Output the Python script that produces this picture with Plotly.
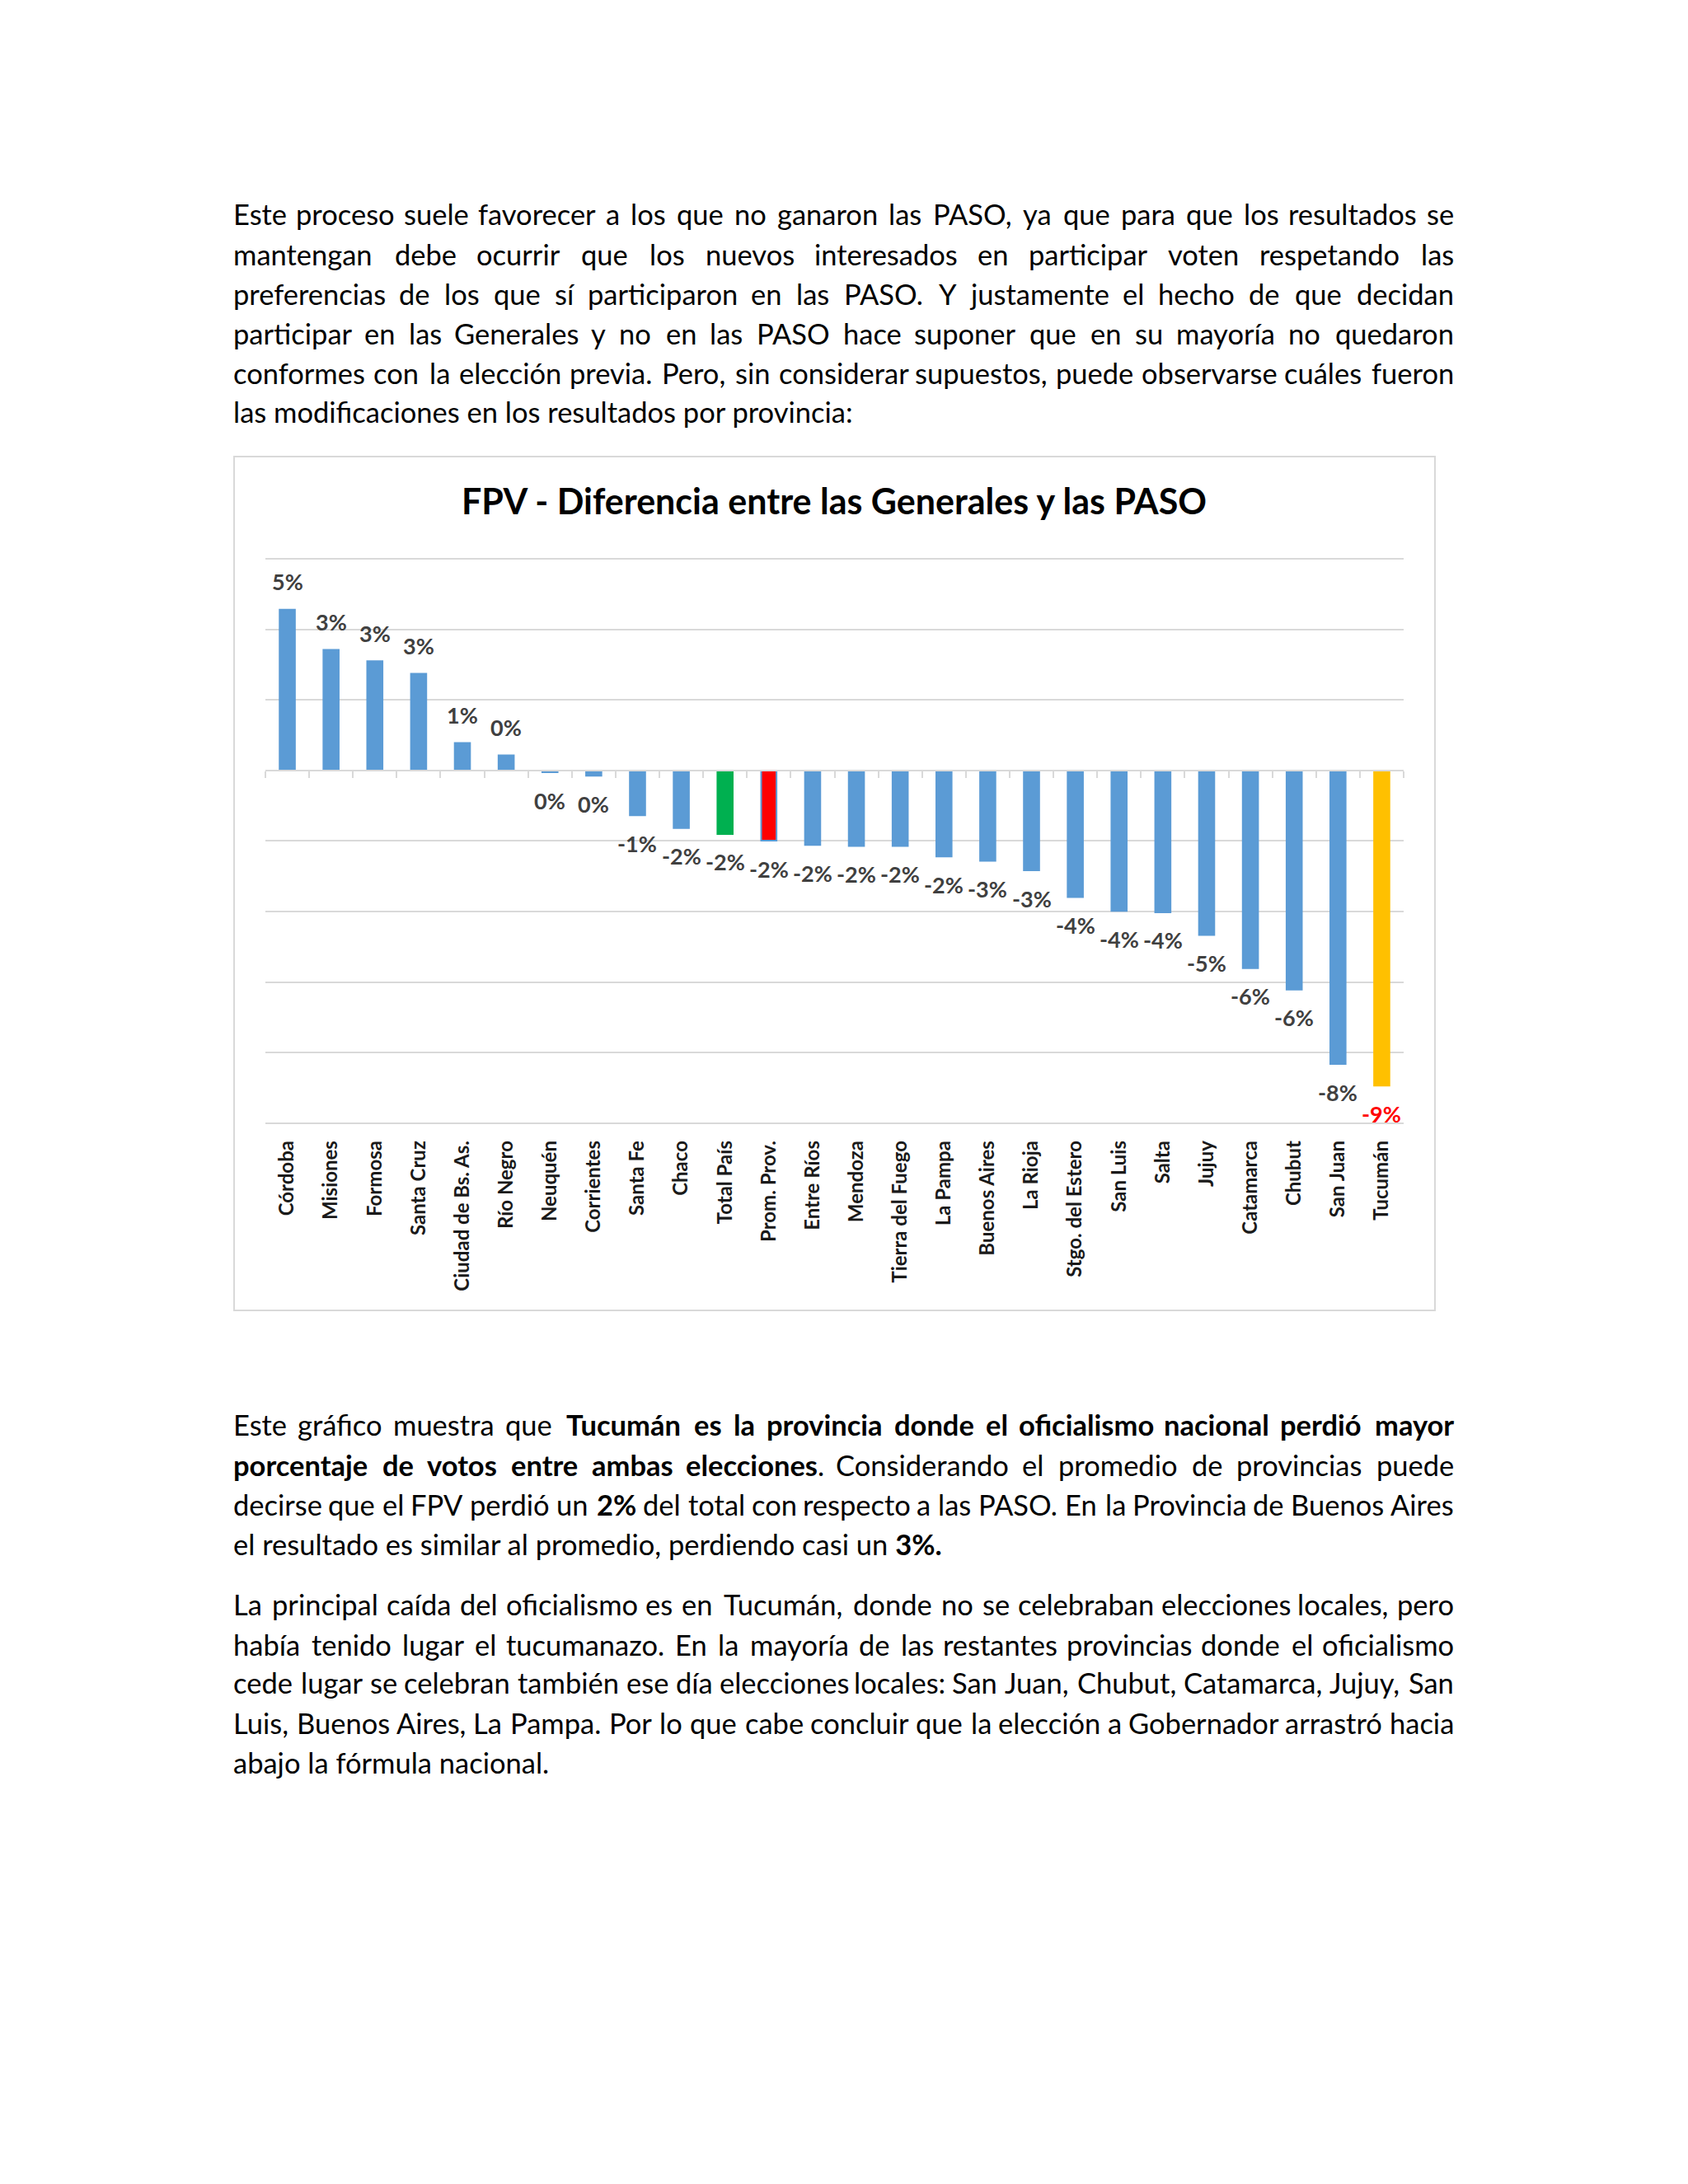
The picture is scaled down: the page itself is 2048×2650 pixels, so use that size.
import plotly.graph_objects as go

# ---------------- data ----------------
categories = ["Córdoba", "Misiones", "Formosa", "Santa Cruz", "Ciudad de Bs. As.", "Río Negro",
              "Neuquén", "Corrientes", "Santa Fe", "Chaco", "Total País", "Prom. Prov.",
              "Entre Ríos", "Mendoza", "Tierra del Fuego", "La Pampa", "Buenos Aires", "La Rioja",
              "Stgo. del Estero", "San Luis", "Salta", "Jujuy", "Catamarca", "Chubut",
              "San Juan", "Tucumán"]
values = [4.56, 3.42, 3.10, 2.74, 0.78, 0.43,
          -0.05, -0.15, -1.27, -1.63, -1.80, -1.99,
          -2.11, -2.14, -2.14, -2.44, -2.56, -2.83,
          -3.59, -3.98, -4.02, -4.66, -5.60, -6.21,
          -8.32, -8.93]
y_ticks = [-10, -8, -6, -4, -2, 0, 2, 4, 6]
title_text = "FPV - Diferencia entre las Generales y las PASO"

para1 = [
    "Este proceso suele favorecer a los que no ganaron las PASO, ya que para que los resultados se",
    "mantengan debe ocurrir que los nuevos interesados en participar voten respetando las",
    "preferencias de los que sí participaron en las PASO. Y justamente el hecho de que decidan",
    "participar en las Generales y no en las PASO hace suponer que en su mayoría no quedaron",
    "conformes con la elección previa. Pero, sin considerar supuestos, puede observarse cuáles fueron",
    "las modificaciones en los resultados por provincia:",
]
para2 = [
    "Este gráfico muestra que **Tucumán **es **la **provincia **donde **el **oficialismo **nacional **perdió **mayor",
    "**porcentaje **de **votos **entre **ambas **elecciones. Considerando el promedio de provincias puede",
    "decirse que el FPV perdió un **2% del total con respecto a las PASO. En la Provincia de Buenos Aires",
    "el resultado es similar al promedio, perdiendo casi un <b>3%.</b>",
]
para3 = [
    "La principal caída del oficialismo es en Tucumán, donde no se celebraban elecciones locales, pero",
    "había tenido lugar el tucumanazo. En la mayoría de las restantes provincias donde el oficialismo",
    "cede lugar se celebran también ese día elecciones locales: San Juan, Chubut, Catamarca, Jujuy, San",
    "Luis, Buenos Aires, La Pampa. Por lo que cabe concluir que la elección a Gobernador arrastró hacia",
    "abajo la fórmula nacional.",
]

# ---------------- styles ----------------
W, H = 2048, 2650
FONT = "Lato"
BLUE = "#5b9bd5"
highlight = {"Total País": "#00b050", "Prom. Prov.": "#ff0000", "Tucumán": "#ffc000"}
label_highlight = {"Tucumán": "#ff0000"}
GRID = "#d9d9d9"

def px(x):
    return x / W

def py(y):
    return 1 - y / H

CW = {}
for ch, w in {"a": .49, "b": .56, "c": .45, "d": .56, "e": .51, "f": .32, "g": .50, "h": .56,
              "i": .23, "j": .23, "k": .49, "l": .23, "m": .83, "n": .56, "o": .55, "p": .56,
              "q": .56, "r": .35, "s": .40, "t": .34, "u": .56, "v": .49, "w": .74, "x": .48,
              "y": .49, "z": .44, "A": .67, "B": .63, "C": .65, "D": .73, "E": .55, "F": .53,
              "G": .71, "H": .74, "I": .27, "J": .38, "K": .64, "L": .49, "M": .89, "N": .74,
              "O": .79, "P": .59, "Q": .79, "R": .61, "S": .52, "T": .58, "U": .71, "V": .67,
              "W": .99, "X": .64, "Y": .62, "Z": .59, "%": .79, ".": .22, ",": .22, ":": .24,
              "-": .34, " ": .26}.items():
    CW[ch] = w
for src, dst in [("á", "a"), ("é", "e"), ("í", "i"), ("ó", "o"), ("ú", "u"), ("ñ", "n")]:
    CW[src] = CW[dst]

def text_w(s, size, bold):
    return size * sum(CW.get(c, .56 if c.isdigit() else .5) for c in s) * (1.02 if bold else 1.0)

BODY = 34.5
LEFT, RIGHT = 285, 1762
annotations = []

def add_line(line, ypix, justify):
    if not justify:
        annotations.append(dict(x=px(LEFT), y=py(ypix), xref="paper", yref="paper",
                                xanchor="left", yanchor="middle", showarrow=False, xshift=-4,
                                text=line.replace("**", ""),
                                font=dict(family=FONT, size=BODY, color="#000000")))
        return
    words = []
    for tok in line.split(" "):
        bold = tok.startswith("**")
        t = tok[2:] if bold else tok
        words.append((t, bold))
    widths = []
    for t, b in words:
        if b and t.endswith("."):
            widths.append(text_w(t[:-1], BODY, True) + text_w(".", BODY, False))
        else:
            widths.append(text_w(t, BODY, b))
    gap = (RIGHT - LEFT - sum(widths)) / (len(words) - 1)
    xcur = LEFT
    last = len(words) - 1
    for k, ((t, b), w) in enumerate(zip(words, widths)):
        if b:
            if t.endswith("."):
                txt = "<b>" + t[:-1] + "</b>."
            else:
                txt = "<b>" + t + "</b>"
        else:
            txt = t
        if k == 0:
            xa, xv, xs = "left", LEFT, -4
        elif k == last:
            xa, xv, xs = "right", RIGHT, 4
        else:
            xa, xv, xs = "center", xcur + w / 2, 0
        annotations.append(dict(x=px(xv), y=py(ypix), xref="paper", yref="paper",
                                xanchor=xa, xshift=xs, yanchor="middle", showarrow=False,
                                text=txt, font=dict(family=FONT, size=BODY, color="#000000")))
        xcur += w + gap

for lines, ys in [(para1, [260, 308, 356, 405, 452, 500]),
                  (para2, [1728, 1777, 1825, 1873]),
                  (para3, [1946, 1995, 2041, 2090, 2138])]:
    for i, (ln, yy) in enumerate(zip(lines, ys)):
        add_line(ln, yy, justify=(i < len(lines) - 1))

# chart title
annotations.append(dict(x=px(1012), y=py(608), xref="paper", yref="paper", xanchor="center",
                        yanchor="middle", showarrow=False, text="<b>" + title_text + "</b>",
                        font=dict(family=FONT, size=43, color="#000000")))

# data labels
for c, v in zip(categories, values):
    annotations.append(dict(x=c, y=v, xref="x", yref="y", showarrow=False,
                            yshift=34 if v >= 0 else -34,
                            text="<b>%d%%</b>" % int(round(v)),
                            font=dict(family=FONT, size=27, color=label_highlight.get(c, "#404040"))))

bar_colors = [highlight.get(c, BLUE) for c in categories]
line_colors = [BLUE if c == "Prom. Prov." else col for c, col in zip(categories, bar_colors)]

fig = go.Figure()
fig.add_trace(go.Bar(x=categories, y=values, width=0.35,
                     marker=dict(color=bar_colors, line=dict(color=line_colors, width=2)),
                     hoverinfo="x+y", showlegend=False))
fig.add_trace(go.Scatter(x=categories, y=values, xaxis="x2", yaxis="y", mode="markers",
                         marker=dict(opacity=0, size=1), hoverinfo="skip", showlegend=False))

ymin, ymax = y_ticks[0], y_ticks[-1]
pad = 0.03
unit = (1363 - 678) / (ymax - ymin)
x_dom = [px(322), px(1703)]
y_dom = [py(1363 + pad * unit), py(678 - pad * unit)]
zero_pos = py(1363 - (0 - ymin) * unit)
n = len(categories)

fig.update_layout(
    width=W, height=H, margin=dict(l=0, r=0, t=0, b=0),
    paper_bgcolor="white", plot_bgcolor="white",
    xaxis=dict(domain=x_dom, type="category", range=[-0.5, n - 0.5], tickangle=-90,
               showgrid=False, showline=False, ticks="", ticklabelstandoff=14,
               tickfont=dict(family=FONT, size=24, color="#1a1a1a", weight="bold"),
               fixedrange=True),
    xaxis2=dict(overlaying="x", matches="x", anchor="free", position=zero_pos, side="bottom",
                showline=True, linecolor=GRID, linewidth=2, ticks="outside", ticklen=8,
                tickcolor=GRID, tickwidth=2, tickson="boundaries", showticklabels=False,
                showgrid=False),
    yaxis=dict(domain=y_dom, range=[ymin - pad, ymax + pad], tickvals=y_ticks, showgrid=True,
               gridcolor=GRID, gridwidth=2, zeroline=False, showticklabels=False, ticks="",
               showline=False, fixedrange=True),
    annotations=annotations,
    shapes=[dict(type="rect", xref="paper", yref="paper", x0=px(284), x1=px(1741),
                 y0=py(1590), y1=py(554), line=dict(color=GRID, width=2), layer="below")],
)

fig.write_html("out.html", config={"displayModeBar": False},
               post_script="document.body.style.margin='0px';")
